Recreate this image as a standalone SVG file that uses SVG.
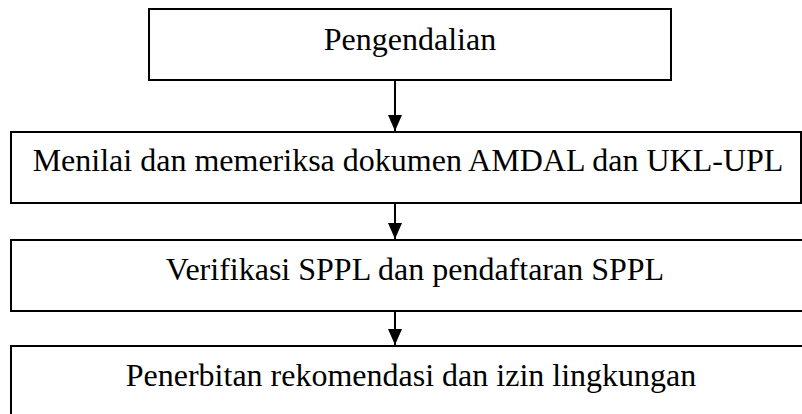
<svg xmlns="http://www.w3.org/2000/svg" width="802" height="414" viewBox="0 0 802 414">
<style>
.box{fill:#fff;stroke:#000;stroke-width:2}
.lbl{font-family:"Liberation Serif","Times New Roman",serif;font-size:32px;fill:#000;text-anchor:middle}
.conn{stroke:#000;stroke-width:2;fill:none}
</style>
<defs>
<marker id="arr" viewBox="0 0 16 14" refX="16" refY="7" markerWidth="16" markerHeight="14" markerUnits="userSpaceOnUse" orient="auto">
<path d="M0,0 L16,7 L0,14 z" fill="#000"/>
</marker>
</defs>
<rect width="802" height="414" fill="#fff"/>
<g id="n1"><rect class="box" x="149" y="9" width="522" height="71"/><text class="lbl" x="410" y="50">Pengendalian</text></g>
<g id="n2"><rect class="box" x="11" y="132" width="790" height="71"/><text class="lbl" x="408" y="171">Menilai dan memeriksa dokumen AMDAL dan UKL-UPL</text></g>
<g id="n3"><rect class="box" x="11" y="240" width="820" height="71"/><text class="lbl" x="415" y="280">Verifikasi SPPL dan pendaftaran SPPL</text></g>
<g id="n4"><rect class="box" x="11" y="346" width="820" height="80"/><text class="lbl" x="411" y="386">Penerbitan rekomendasi dan izin lingkungan</text></g>
<g id="connectors">
<line class="conn" x1="395" y1="81" x2="395" y2="131" marker-end="url(#arr)"/>
<line class="conn" x1="395" y1="204" x2="395" y2="239" marker-end="url(#arr)"/>
<line class="conn" x1="395" y1="312" x2="395" y2="345" marker-end="url(#arr)"/>
</g>
</svg>
